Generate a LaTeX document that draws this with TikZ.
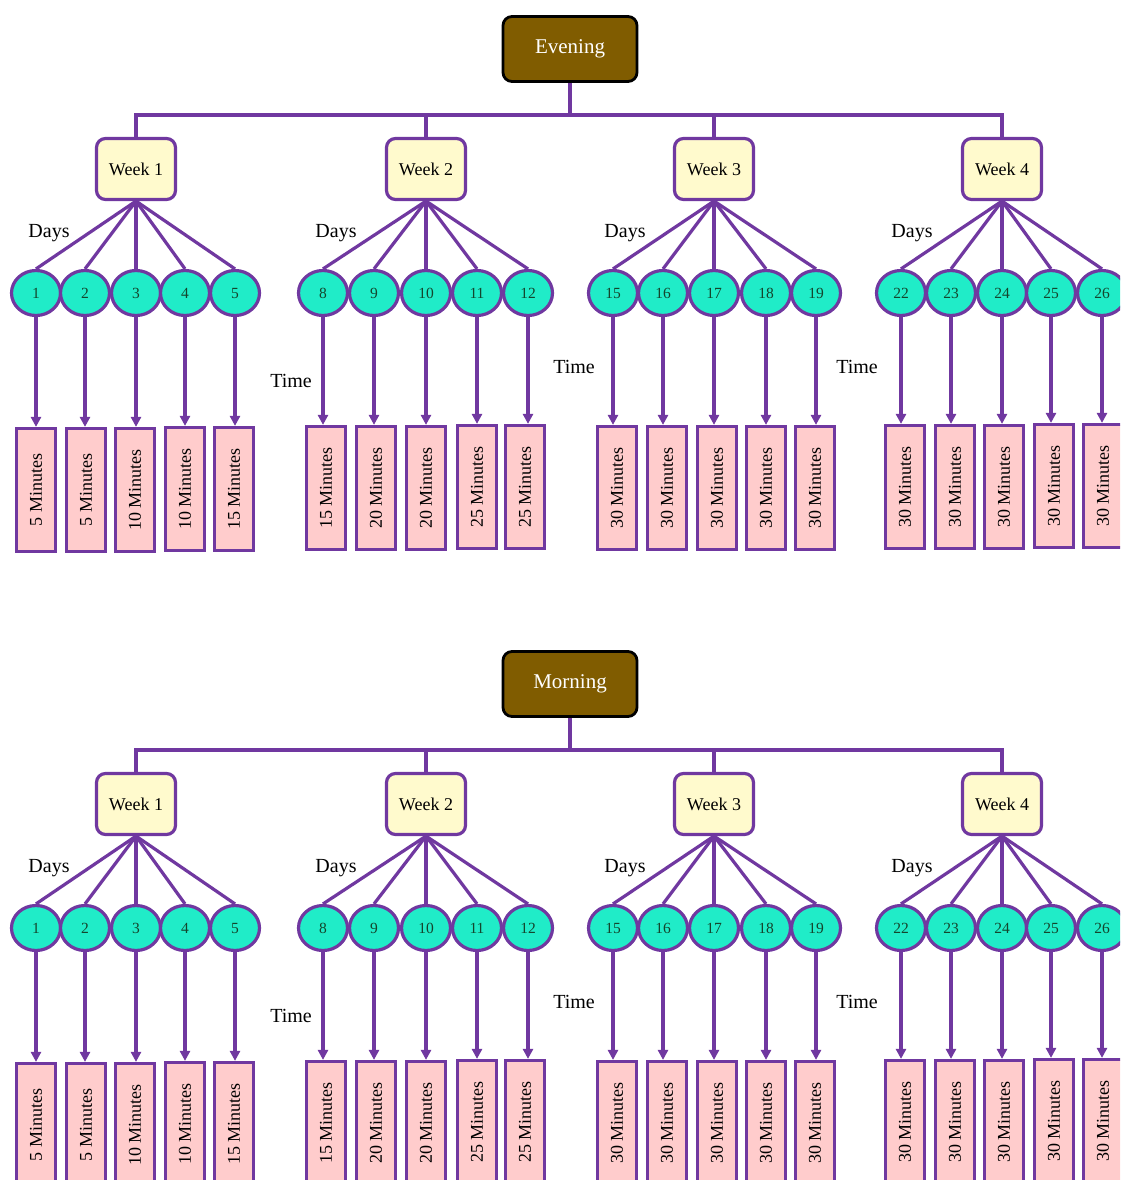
\documentclass[tikz,border=0pt]{standalone}
\usepackage{fontspec}
\usepackage{graphicx}
\setmainfont{Liberation Serif}
\usetikzlibrary{shapes.geometric,arrows.meta}
\definecolor{lc}{RGB}{112,56,160}
\definecolor{pinkf}{RGB}{255,204,204}
\definecolor{yelf}{RGB}{255,250,205}
\definecolor{cyanf}{RGB}{32,236,200}
\definecolor{brownf}{RGB}{128,92,0}
\definecolor{numc}{RGB}{20,70,45}
\tikzset{
  titlebox/.style={draw=black, line width=2.8pt, fill=brownf, rounded corners=9pt,
    minimum width=134pt, minimum height=65pt, inner sep=0pt, text=white,
    font=\fontsize{21}{24}\selectfont},
  weekbox/.style={draw=lc, line width=3.2pt, fill=yelf, rounded corners=9pt,
    minimum width=79pt, minimum height=61pt, inner sep=0pt,
    font=\fontsize{18}{20}\selectfont},
  daynode/.style={ellipse, draw=lc, line width=3.2pt, fill=cyanf,
    minimum width=49pt, minimum height=45pt, inner sep=0pt, text=numc,
    font=\fontsize{15.5}{17}\selectfont},
  timebox/.style={draw=lc, line width=3.2pt, fill=pinkf,
    minimum width=39pt, minimum height=123pt, inner sep=0pt,
    font=\fontsize{18}{20}\selectfont},
  conn/.style={draw=lc, line width=3.2pt},
  arr/.style={draw=lc, line width=3.2pt, -{Triangle[length=10pt,width=10pt]}},
  lbl/.style={font=\fontsize{20}{22}\selectfont, inner sep=0pt}
}
\newcommand\drawtree[3]{%
\begin{scope}[shift={(0,#2)}]
  \node[titlebox] (#1T) at (570,49) {#3};
  \foreach \i/\x in {1/136,2/426,3/714,4/1002}
    \node[weekbox] (#1W\i) at (\x,169) {Week \i};
  \coordinate (#1J) at (570,115);
  \draw[conn] (#1T.south) -- (#1J);
  \draw[conn] (#1W1.north) |- (#1J -| #1W4.north) -- (#1W4.north);
  \draw[conn] (#1W2.north) -- (#1W2.north |- #1J);
  \draw[conn] (#1W3.north) -- (#1W3.north |- #1J);
  \foreach \w/\cx/\n/\bx/\by/\t in {
    1/36/1/36/490/5, 1/85/2/86/490/5, 1/136/3/135/490/10, 1/185/4/185/489/10, 1/235/5/234/489/15,
    2/323/8/326/488/15, 2/374/9/376/488/20, 2/426/10/426/488/20, 2/477/11/477/487/25, 2/528/12/525/487/25,
    3/613/15/617/488/30, 3/663/16/667/488/30, 3/714/17/717/488/30, 3/766/18/766/488/30, 3/816/19/815/488/30,
    4/901/22/905/487/30, 4/951/23/955/487/30, 4/1002/24/1004/487/30, 4/1051/25/1054/486/30, 4/1102/26/1103/486/30}{
    \node[daynode] (#1D\n) at (\cx,293) {\n};
    \node[timebox] (#1B\n) at (\bx,\by) {\rotatebox{90}{\t\ Minutes}};
    \draw[conn] (#1W\w.south) -- (#1D\n.north);
    \draw[arr] (#1D\n.south) -- (#1D\n.south |- #1B\n.north);
  }
  \foreach \x in {49,336,625,912}
    \node[lbl] (#1days\x) at (\x,233) {Days};
  \node[lbl] (#1time2) at (291,381) {Time};
  \node[lbl] (#1time3) at (574,367) {Time};
  \node[lbl] (#1time4) at (857,367) {Time};
\end{scope}}
\begin{document}
\begin{tikzpicture}[x=1pt,y=-1pt]
\useasboundingbox (0,0) rectangle (1120,1180);
\clip (0,0) rectangle (1120,1180);
\drawtree{E}{0}{Evening}
\drawtree{M}{635}{Morning}
\end{tikzpicture}
\end{document}
